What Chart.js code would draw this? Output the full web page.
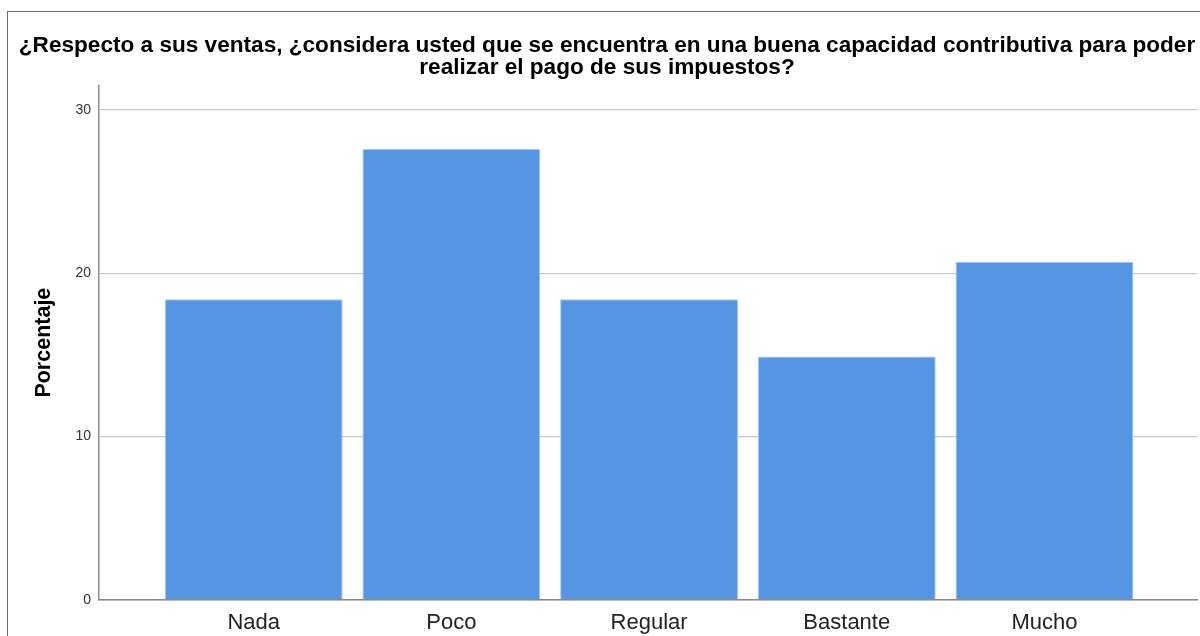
<!DOCTYPE html>
<html>
<head>
<meta charset="utf-8">
<script src="https://cdn.jsdelivr.net/npm/chart.js@4.4.1/dist/chart.umd.min.js"></script>
<style>
  html, body { margin: 0; padding: 0; background: #fff; overflow: hidden; }
  #wrap { position: relative; width: 1200px; height: 636px; }
  #frame { position: absolute; left: 7px; top: 11px; width: 1300px; height: 700px; border: 1px solid #707070; }
  #chart { position: absolute; left: 0; top: 0; }
</style>
</head>
<body>
<div id="wrap">
  <div id="frame"></div>
  <canvas id="chart" width="1200" height="636"></canvas>
</div>
<script>
const titleLines = [
  '¿Respecto a sus ventas, ¿considera usted que se encuentra en una buena capacidad contributiva para poder',
  'realizar el pago de sus impuestos?',
];
const categories = ['Nada', 'Poco', 'Regular', 'Bastante', 'Mucho'];
const percentages = [18.4, 27.6, 18.4, 14.9, 20.7];
const yTicks = [0, 10, 20, 30];
const yLabel = 'Porcentaje';

const points = categories.map((name, i) => ({ x: i + 1, y: percentages[i] }));

new Chart(document.getElementById('chart'), {
  type: 'bar',
  data: {
    datasets: [{
      data: points,
      backgroundColor: '#5596e4',
      borderColor: '#a9c8f0',
      borderWidth: 1,
      barPercentage: 0.9,
      categoryPercentage: 1,
    }],
  },
  options: {
    responsive: false,
    animation: false,
    layout: { padding: { left: 17, right: 3, top: 0, bottom: 0 } },
    plugins: {
      legend: { display: false },
      tooltip: { enabled: false },
      title: {
        display: true,
        text: titleLines,
        color: '#000',
        font: { family: 'Liberation Sans, Arial, sans-serif', size: 22.6, weight: 'bold', lineHeight: 0.98 },
        padding: { top: 35, bottom: 6 },
      },
    },
    scales: {
      x: {
        type: 'linear',
        offset: false,
        min: 0.2175,
        max: 5.7715,
        grid: { display: false, drawTicks: false },
        border: { display: true, color: '#8a8a8a', width: 1.5 },
        afterBuildTicks: (axis) => { axis.ticks = categories.map((c, i) => ({ value: i + 1 })); },
        afterFit: (axis) => { axis.height = 36; },
        ticks: {
          color: '#222',
          padding: 10,
          font: { family: 'Liberation Sans, Arial, sans-serif', size: 22 },
          callback: (v) => categories[v - 1] || '',
        },
      },
      y: {
        min: 0,
        max: 31.5,
        grid: { color: '#c8c8c8', lineWidth: 1.3, drawTicks: false },
        border: { display: true, color: '#8a8a8a', width: 1.5 },
        afterBuildTicks: (axis) => { axis.ticks = yTicks.map((v) => ({ value: v })); },
        afterFit: (axis) => { axis.width = 82; },
        ticks: {
          color: '#333',
          padding: 8,
          font: { family: 'Liberation Sans, Arial, sans-serif', size: 14 },
        },
        title: {
          display: true,
          text: yLabel,
          color: '#000',
          padding: { top: 14, bottom: 0 },
          font: { family: 'Liberation Sans, Arial, sans-serif', size: 21.5, weight: 'bold' },
        },
      },
    },
  },
});
</script>
</body>
</html>
